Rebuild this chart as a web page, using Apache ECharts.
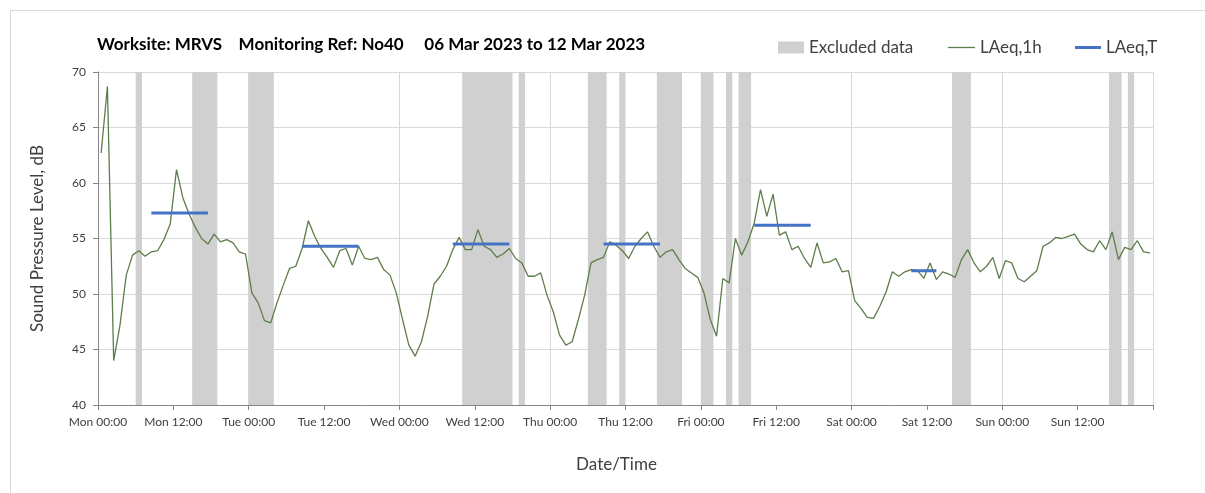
<!DOCTYPE html>
<html>
<head>
<meta charset="utf-8">
<title>LAeq chart</title>
<script src="https://cdn.jsdelivr.net/npm/echarts@6/dist/echarts.min.js"></script>
<style>
  html, body { margin: 0; padding: 0; background: #fff; }
  #chart { width: 1205px; height: 493px; }
</style>
</head>
<body>
<div id="chart"></div>
<script>
// hourly LAeq,1h values, Mon 00:00 .. Sun 23:00 (plotted at mid hour)
const laeq1h = [
  62.7, 68.7, 44.0, 47.2, 51.7, 53.5, 53.9, 53.4, 53.8, 53.9, 54.9, 56.3, 61.2, 58.7,
  57.2, 56.0, 55.0, 54.5, 55.4, 54.7, 54.9, 54.6, 53.8, 53.6, 50.1, 49.2, 47.6, 47.4,
  49.2, 50.8, 52.3, 52.5, 54.1, 56.6, 55.2, 54.1, 53.3, 52.4, 53.9, 54.1, 52.6, 54.3,
  53.2, 53.1, 53.3, 52.2, 51.7, 50.1, 47.7, 45.4, 44.4, 45.7, 48.0, 50.9, 51.6, 52.5,
  54.0, 55.1, 54.0, 54.0, 55.8, 54.3, 54.0, 53.3, 53.6, 54.1, 53.2, 52.8, 51.6, 51.6,
  51.9, 49.9, 48.4, 46.3, 45.4, 45.7, 47.7, 49.9, 52.8, 53.1, 53.3, 54.7, 54.4, 53.9,
  53.2, 54.3, 55.0, 55.6, 54.3, 53.3, 53.8, 54.0, 53.1, 52.3, 51.9, 51.5, 50.1, 47.7,
  46.2, 51.4, 51.0, 55.0, 53.5, 54.7, 56.4, 59.4, 57.0, 59.0, 55.3, 55.6, 54.0, 54.3,
  53.2, 52.4, 54.6, 52.8, 52.9, 53.2, 52.0, 52.1, 49.4, 48.7, 47.9, 47.8, 48.9, 50.2,
  52.0, 51.6, 52.0, 52.2, 52.1, 51.4, 52.8, 51.3, 52.0, 51.8, 51.5, 53.1, 54.0, 52.8,
  52.0, 52.5, 53.3, 51.4, 53.0, 52.8, 51.4, 51.1, 51.6, 52.1, 54.3, 54.6, 55.1, 55.0,
  55.2, 55.4, 54.5, 54.0, 53.8, 54.8, 54.0, 55.6, 53.1, 54.2, 54.0, 54.8, 53.8, 53.7
];

// LAeq,T periods (hours from Mon 00:00) and levels
const periodStart = [8.5, 32.5, 56.5, 80.5, 104.5, 129.5];
const periodEnd = [17.5, 41.5, 65.5, 89.5, 113.5, 133.5];
const periodLevel = [57.3, 54.3, 54.5, 54.5, 56.2, 52.1];

// excluded data windows (hours from Mon 00:00)
const excludedFrom = [6, 15, 24, 58, 67, 78, 83, 89, 96, 100, 102, 136, 161, 164];
const excludedTo = [7, 19, 28, 66, 68, 81, 84, 93, 98, 101, 104, 139, 163, 165];

const dayNames = ["Mon", "Tue", "Wed", "Thu", "Fri", "Sat", "Sun"];

const font = "Lato, 'Open Sans', sans-serif";
const greenLine = "#5e7d4a";
const blueLine = "#4472c4";
const greyBand = "#d0d0d0";

let lineData = laeq1h.map((v, i) => [i + 0.5, v]);

let periodData = [];
periodStart.forEach((s, k) => {
  periodData.push([s, periodLevel[k]]);
  periodData.push([periodEnd[k], periodLevel[k]]);
  periodData.push([periodEnd[k], "-"]);
});

let bands = excludedFrom.map((f, k) => [{ xAxis: f }, { xAxis: excludedTo[k] }]);

// one legend per entry so each icon gets its own size
function legendEntry(name, left, w, h) {
  return {
    left: left,
    top: 39,
    padding: 0,
    itemWidth: w,
    itemHeight: h,
    icon: "rect",
    textStyle: { fontSize: 17, color: "#404040", fontFamily: font },
    data: [name],
  };
}

let chart = echarts.init(document.getElementById("chart"));

let option = {
  animation: false,
  textStyle: { fontFamily: font },
  title: {
    text: "Worksite: MRVS    Monitoring Ref: No40     06 Mar 2023 to 12 Mar 2023",
    left: 97,
    top: 36,
    padding: 0,
    textStyle: { fontSize: 17, fontWeight: "bold", color: "#000", fontFamily: font },
  },
  legend: [
    legendEntry("Excluded data", 778, 26, 12),
    legendEntry("LAeq,1h", 948, 27, 1.3),
    legendEntry("LAeq,T", 1075, 26, 3),
  ],
  graphic: [
    {
      type: "rect",
      shape: { x: 10.5, y: 10.5, width: 1400, height: 700 },
      style: { fill: "none", stroke: "#d9d9d9", lineWidth: 1 },
      silent: true,
    },
  ],
  grid: {
    left: 98,
    right: 52,
    top: 72,
    bottom: 88,
  },
  xAxis: [
    {
      type: "value",
      min: 0,
      max: 168,
      interval: 12,
      name: "Date/Time",
      nameLocation: "middle",
      nameGap: 51,
      nameTextStyle: { fontSize: 17, color: "#404040", fontFamily: font, padding: [0, 18, 0, 0] },
      axisLine: { show: true, lineStyle: { color: "#868686" } },
      axisTick: { show: true, length: 5, lineStyle: { color: "#868686" } },
      axisLabel: {
        margin: 11,
        fontSize: 12,
        color: "#404040",
        formatter: function (h) {
          if (h >= 168) return "";
          return dayNames[Math.floor(h / 24)] + " " + (h % 24 === 0 ? "00:00" : "12:00");
        },
      },
      splitLine: { show: false },
    },
    {
      type: "value",
      min: 0,
      max: 168,
      interval: 24,
      position: "bottom",
      axisLine: { show: false },
      axisTick: { show: false },
      axisLabel: { show: false },
      splitLine: { show: true, lineStyle: { color: "#d9d9d9" } },
    },
  ],
  yAxis: {
    type: "value",
    min: 40,
    max: 70,
    interval: 5,
    name: "Sound Pressure Level, dB",
    nameLocation: "middle",
    nameGap: 52,
    nameTextStyle: { fontSize: 17, color: "#404040", fontFamily: font },
    axisLine: { show: true, lineStyle: { color: "#868686" } },
    axisTick: { show: true, length: 5, lineStyle: { color: "#868686" } },
    axisLabel: { margin: 12, fontSize: 12, color: "#404040" },
    splitLine: { show: true, lineStyle: { color: "#d9d9d9" } },
  },
  series: [
    {
      name: "Excluded data",
      type: "line",
      color: greyBand,
      data: [],
      markArea: {
        silent: true,
        itemStyle: { color: greyBand },
        data: bands,
      },
    },
    {
      name: "LAeq,1h",
      type: "line",
      color: greenLine,
      data: lineData,
      symbol: "none",
      lineStyle: { width: 1.3, color: greenLine },
      z: 3,
    },
    {
      name: "LAeq,T",
      type: "line",
      color: blueLine,
      data: periodData,
      symbol: "none",
      connectNulls: false,
      lineStyle: { width: 3, color: blueLine },
      z: 4,
    },
  ],
};

chart.setOption(option);
</script>
</body>
</html>
